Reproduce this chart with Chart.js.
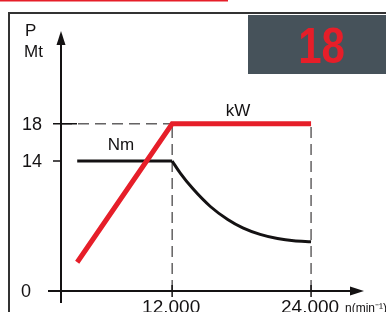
<!DOCTYPE html>
<html>
<head>
<meta charset="utf-8">
<script src="https://cdn.jsdelivr.net/npm/chart.js@4/dist/chart.umd.min.js"></script>
<style>
  html, body { margin: 0; padding: 0; background: #fff; }
  #wrap { width: 386px; height: 312px; position: relative; }
</style>
</head>
<body>
<div id="wrap"><canvas id="chart" width="386" height="312"></canvas></div>
<script>
// data
const kwX = [3800, 12000, 24000];
const kwY = [3.1, 18, 18];
const nmFlatX = [3800, 12000];
const nmFlatY = [14, 14];
const nmCurveX = [12000, 12700, 13800, 15300, 16800, 18100, 19600, 21100, 22500, 24000];
const nmCurveY = [14, 12.7, 11.0, 9.1, 7.7, 6.8, 6.1, 5.65, 5.4, 5.3];
const yTicks = [0, 14, 18];
const xTicks = [12000, 24000];
const xTickLabels = ['12.000', '24.000'];
const xMin = 2400, xMax = 28400;
const yMin = 0, yMax = 28;

const RED = '#e61e29';
const INK = '#141213';

function pts(xs, ys) {
    return xs.map(function(x, i) { return { x: x, y: ys[i] }; });
}

// dashed guide lines
const guides = [
    { label: 'g18', data: [{ x: xMin, y: 18 }, { x: 12000, y: 18 }] }
];
xTicks.forEach(function(t) {
    guides.push({ label: 'g' + t, data: [{ x: t, y: yMin }, { x: t, y: 18 }] });
});

const datasets = guides.map(function(g) {
    return {
        label: g.label,
        data: g.data,
        borderColor: INK,
        borderWidth: 1,
        borderDash: [11, 6],
        pointRadius: 0,
        order: 5
    };
});

datasets.push({
    label: 'Nm',
    data: pts(nmFlatX, nmFlatY),
    borderColor: INK,
    borderWidth: 3,
    pointRadius: 0,
    borderCapStyle: 'butt',
    order: 2
});
datasets.push({
    label: 'Nm curve',
    data: pts(nmCurveX, nmCurveY),
    borderColor: INK,
    borderWidth: 3,
    pointRadius: 0,
    cubicInterpolationMode: 'monotone',
    order: 2
});
datasets.push({
    label: 'kW',
    data: pts(kwX, kwY),
    borderColor: RED,
    borderWidth: 5,
    pointRadius: 0,
    borderCapStyle: 'butt',
    borderJoinStyle: 'miter',
    order: 1
});

const decor = {
    id: 'decor',
    beforeDatasetsDraw: function(chart) {
        const ctx = chart.ctx;
        const xs = chart.scales.x, ys = chart.scales.y;
        const ax = xs.getPixelForValue(xMin);
        const ay = ys.getPixelForValue(0);
        ctx.save();

        // frame and header
        ctx.fillStyle = RED;
        ctx.fillRect(0, 0, 228, 1.5);
        ctx.fillStyle = '#333';
        ctx.fillRect(8, 12, 378, 2);
        ctx.fillRect(8, 12, 2, 300);
        ctx.fillStyle = '#46525a';
        ctx.fillRect(248, 15, 138, 59);

        // axes
        ctx.strokeStyle = INK;
        ctx.fillStyle = INK;
        ctx.lineWidth = 2;
        ctx.beginPath();
        ctx.moveTo(ax, 303);
        ctx.lineTo(ax, 42);
        ctx.moveTo(48, ay);
        ctx.lineTo(352, ay);
        ctx.stroke();
        ctx.beginPath();
        ctx.moveTo(ax, 31);
        ctx.lineTo(ax - 4.5, 45);
        ctx.lineTo(ax + 4.5, 45);
        ctx.closePath();
        ctx.fill();
        ctx.beginPath();
        ctx.moveTo(364, ay);
        ctx.lineTo(350, ay - 4.5);
        ctx.lineTo(350, ay + 4.5);
        ctx.closePath();
        ctx.fill();

        // ticks
        ctx.lineWidth = 1.5;
        ctx.beginPath();
        yTicks.forEach(function(t) {
            if (t === 0) return;
            const py = ys.getPixelForValue(t);
            ctx.moveTo(53, py);
            ctx.lineTo(t === 18 ? 77 : ax, py);
        });
        xTicks.forEach(function(t) {
            const px = xs.getPixelForValue(t);
            ctx.moveTo(px, ay - 6);
            ctx.lineTo(px, ay + 6);
        });
        ctx.stroke();
        ctx.restore();
    },
    afterDraw: function(chart) {
        const ctx = chart.ctx;
        const xs = chart.scales.x, ys = chart.scales.y;
        ctx.save();
        ctx.fillStyle = INK;
        ctx.textBaseline = 'middle';
        ctx.textAlign = 'left';
        ctx.font = '17px "Liberation Sans", Arial, sans-serif';
        ctx.fillText('P', 25, 31);
        ctx.fillText('Mt', 24, 52);

        ctx.font = '18px "Liberation Sans", Arial, sans-serif';
        ctx.textAlign = 'right';
        yTicks.forEach(function(t) {
            ctx.fillText(String(t), t === 0 ? 31 : 42, ys.getPixelForValue(t) + 1);
        });

        ctx.textAlign = 'center';
        ctx.textBaseline = 'alphabetic';
        ctx.font = '19px "Liberation Sans", Arial, sans-serif';
        xTicks.forEach(function(t, i) {
            ctx.fillText(xTickLabels[i], xs.getPixelForValue(t) - 1, 313);
        });
        ctx.textAlign = 'left';
        ctx.font = '12px "Liberation Sans", Arial, sans-serif';
        ctx.fillText('n(min\u207B\u00B9)', 345, 312);

        ctx.textAlign = 'center';
        ctx.textBaseline = 'middle';
        ctx.font = '17px "Liberation Sans", Arial, sans-serif';
        ctx.fillText('Nm', 121, 145);
        ctx.fillText('kW', 238, 111);

        // badge number
        ctx.fillStyle = RED;
        ctx.font = 'bold 50px "Liberation Sans", Arial, sans-serif';
        ctx.textBaseline = 'alphabetic';
        ctx.translate(321.5, 63);
        ctx.scale(0.84, 1);
        ctx.fillText('18', 0, 0);
        ctx.restore();
    }
};

new Chart(document.getElementById('chart'), {
    type: 'line',
    data: { datasets: datasets },
    options: {
        responsive: false,
        animation: false,
        layout: { padding: { left: 61, right: 24, top: 31, bottom: 21 } },
        plugins: { legend: { display: false }, tooltip: { enabled: false } },
        scales: {
            x: { type: 'linear', min: xMin, max: xMax, display: false },
            y: { type: 'linear', min: yMin, max: yMax, display: false }
        }
    },
    plugins: [decor]
});
</script>
</body>
</html>
